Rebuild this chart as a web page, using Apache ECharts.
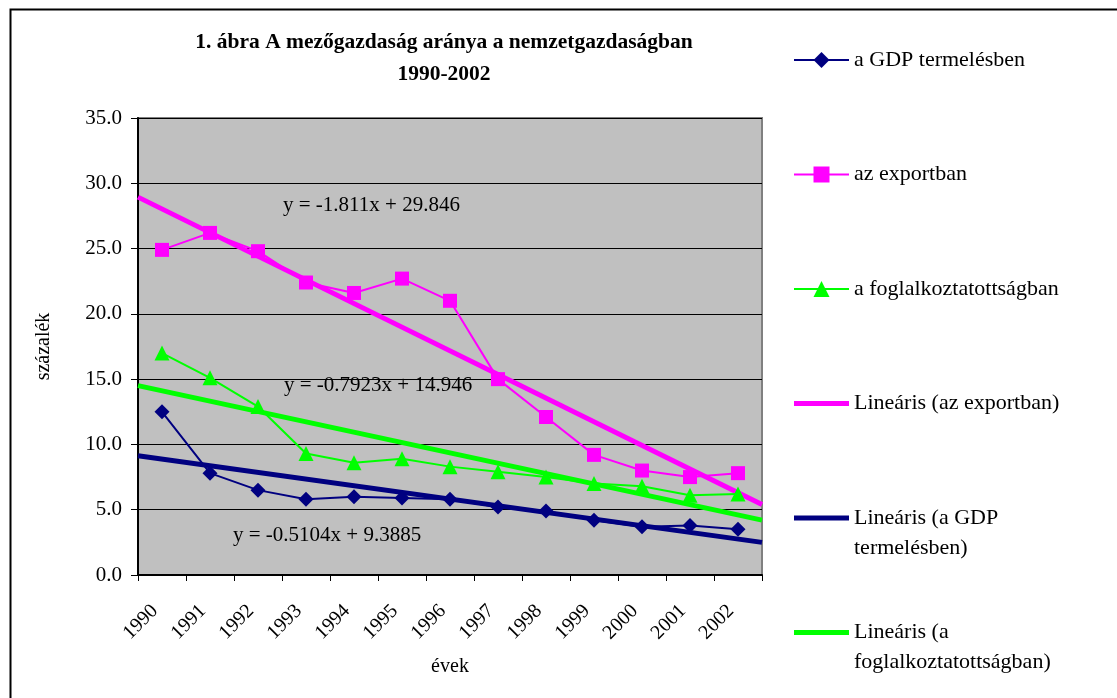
<!DOCTYPE html>
<html lang="hu">
<head>
    <meta charset="UTF-8">
    <title>A mezőgazdaság aránya a nemzetgazdaságban</title>
    <script src="https://cdn.jsdelivr.net/npm/echarts@6/dist/echarts.min.js"></script>
    <style>
        html, body { margin: 0; padding: 0; background: #fff; }
        #main { width: 1117px; height: 698px; }
    </style>
</head>
<body>
<div id="main"></div>
<script>
    // adatok (képről leolvasva)
    var years = ['1990','1991','1992','1993','1994','1995','1996','1997','1998','1999','2000','2001','2002'];
    var gdp = [12.5, 7.8, 6.5, 5.8, 6.0, 5.9, 5.8, 5.2, 4.9, 4.2, 3.7, 3.8, 3.5];
    var export_ = [24.9, 26.2, 24.8, 22.4, 21.6, 22.7, 21.0, 15.0, 12.1, 9.2, 8.0, 7.5, 7.8];
    var foglalk = [17.0, 15.1, 12.9, 9.3, 8.6, 8.9, 8.3, 7.9, 7.5, 7.0, 6.8, 6.1, 6.2];
    var yTicks = [0, 5, 10, 15, 20, 25, 30, 35];
    var eqTexts = ['y = -1.811x + 29.846', 'y = -0.7923x + 14.946', 'y = -0.5104x + 9.3885'];

    var FONT = '"Liberation Serif", "Times New Roman", serif';

    // lineáris trend (legkisebb négyzetek), x = 1..n, a rajzterület széléig meghosszabbítva
    function trend(arr) {
        var n = arr.length, sx = 0, sy = 0, sxy = 0, sxx = 0;
        for (var i = 0; i < n; i++) {
            var x = i + 1;
            sx += x; sy += arr[i]; sxy += x * arr[i]; sxx += x * x;
        }
        var m = (n * sxy - sx * sy) / (n * sxx - sx * sx);
        var b = (sy - m * sx) / n;
        return [[0.5, b + m * 0.5], [n + 0.5, b + m * (n + 0.5)]];
    }

    var myChart = echarts.init(document.getElementById('main'));

    // vastag vonal ikon a trendvonalakhoz
    var trendIcon = 'path://M0,0L55,0L55,5L0,5Z';

    var option = {
        backgroundColor: '#ffffff',
        animation: false,
        title: {
            text: '1. ábra A mezőgazdaság aránya a nemzetgazdaságban\n1990-2002',
            left: 439,
            top: 21,
            textAlign: 'center',
            textStyle: { fontFamily: FONT, fontSize: 21.5, fontWeight: 'bold', color: '#000', lineHeight: 32 }
        },
        legend: {
            orient: 'vertical',
            left: 788,
            top: 10,
            itemWidth: 55,
            itemHeight: 20,
            itemGap: 24.5,
            textStyle: { fontFamily: FONT, fontSize: 22, color: '#000', lineHeight: 30 },
            // minden tétel 3 soros (üres első/utolsó sor), így a jel az első szövegsorhoz igazodik
            formatter: function (name) {
                if (name === 'Lineáris (a GDP termelésben)') return ' \nLineáris (a GDP\ntermelésben)';
                if (name === 'Lineáris (a foglalkoztatottságban)') return ' \nLineáris (a\nfoglalkoztatottságban)';
                return ' \n' + name + '\n ';
            },
            data: [
                { name: 'a GDP termelésben' },
                { name: 'az exportban' },
                { name: 'a foglalkoztatottságban' },
                { name: 'Lineáris (az exportban)', icon: trendIcon },
                { name: 'Lineáris (a GDP termelésben)', icon: trendIcon },
                { name: 'Lineáris (a foglalkoztatottságban)', icon: trendIcon }
            ]
        },
        grid: {
            left: 138, top: 118, width: 624, height: 457,
            show: true,
            backgroundColor: '#c0c0c0',
            borderColor: '#808080',
            borderWidth: 2
        },
        xAxis: [{
            type: 'category',
            data: years,
            boundaryGap: true,
            name: 'évek',
            nameLocation: 'middle',
            nameGap: 82,
            nameTextStyle: { fontFamily: FONT, fontSize: 20, color: '#000' },
            axisLine: { lineStyle: { color: '#000', width: 2 } },
            axisTick: { show: true, length: 6, lineStyle: { color: '#000' } },
            axisLabel: { rotate: 45, margin: 40, verticalAlign: 'bottom',
                fontFamily: FONT, fontSize: 20, color: '#000', interval: 0 },
            splitLine: { show: false }
        }, {
            type: 'value',
            min: 0.5,
            max: years.length + 0.5,
            show: false
        }],
        yAxis: {
            type: 'value',
            min: yTicks[0],
            max: yTicks[yTicks.length - 1],
            interval: 5,
            name: 'százalék',
            nameLocation: 'middle',
            nameGap: 84,
            nameRotate: 90,
            nameTextStyle: { fontFamily: FONT, fontSize: 20, color: '#000' },
            axisLine: { show: true, lineStyle: { color: '#000', width: 2 } },
            axisTick: { show: true, length: 7, lineStyle: { color: '#000' } },
            axisLabel: { margin: 16, fontFamily: FONT, fontSize: 21, color: '#000',
                formatter: function (v) { return v.toFixed(1); } },
            splitLine: { lineStyle: { color: '#000', width: 1 } }
        },
        series: [
            {
                name: 'a GDP termelésben', type: 'line', data: gdp, z: 4,
                symbol: 'diamond', symbolSize: 15,
                lineStyle: { color: '#000080', width: 2 },
                itemStyle: { color: '#000080' }
            },
            {
                name: 'az exportban', type: 'line', data: export_, z: 4,
                symbol: 'rect', symbolSize: 14,
                lineStyle: { color: '#ff00ff', width: 2 },
                itemStyle: { color: '#ff00ff' }
            },
            {
                name: 'a foglalkoztatottságban', type: 'line', data: foglalk, z: 4,
                symbol: 'triangle', symbolSize: 15,
                lineStyle: { color: '#00ff00', width: 2 },
                itemStyle: { color: '#00ff00' }
            },
            {
                name: 'Lineáris (az exportban)', type: 'line', xAxisIndex: 1, z: 3,
                data: trend(export_), symbol: 'none',
                lineStyle: { color: '#ff00ff', width: 5 },
                itemStyle: { color: '#ff00ff' }
            },
            {
                name: 'Lineáris (a GDP termelésben)', type: 'line', xAxisIndex: 1, z: 3,
                data: trend(gdp), symbol: 'none',
                lineStyle: { color: '#000080', width: 5 },
                itemStyle: { color: '#000080' }
            },
            {
                name: 'Lineáris (a foglalkoztatottságban)', type: 'line', xAxisIndex: 1, z: 3,
                data: trend(foglalk), symbol: 'none',
                lineStyle: { color: '#00ff00', width: 5 },
                itemStyle: { color: '#00ff00' }
            }
        ],
        graphic: [
            { type: 'rect', left: 8, top: 7, shape: { width: 1200, height: 800 },
              style: { fill: 'none', stroke: '#000', lineWidth: 2 }, silent: true },
            { type: 'text', left: 283, top: 195, z: 10,
              style: { text: eqTexts[0], font: '21px ' + FONT, fill: '#000' } },
            { type: 'text', left: 284, top: 375, z: 10,
              style: { text: eqTexts[1], font: '21px ' + FONT, fill: '#000' } },
            { type: 'text', left: 233, top: 525, z: 10,
              style: { text: eqTexts[2], font: '21px ' + FONT, fill: '#000' } }
        ]
    };

    myChart.setOption(option);
</script>
</body>
</html>
